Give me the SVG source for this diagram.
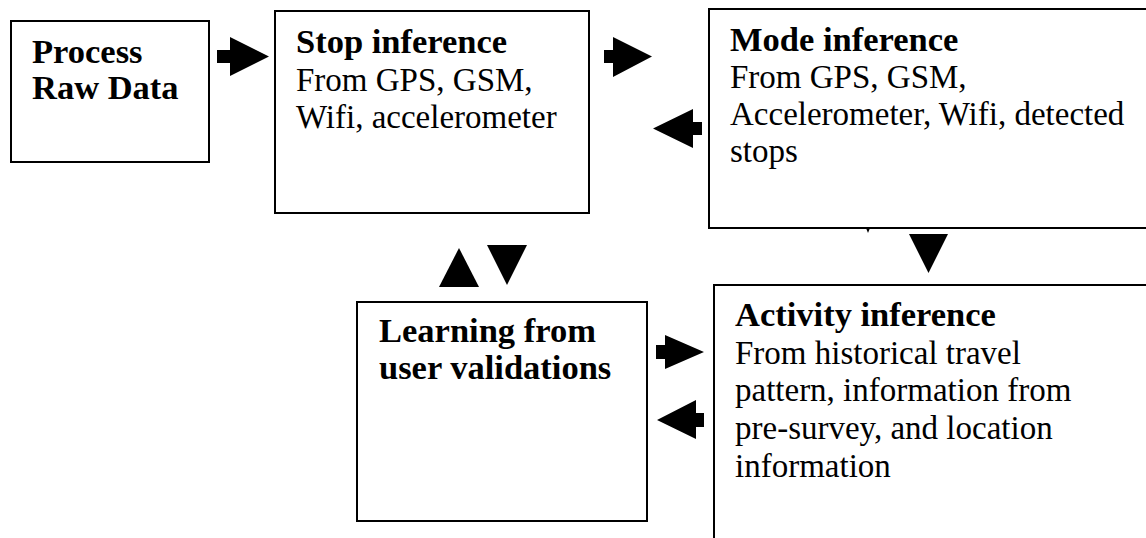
<svg xmlns="http://www.w3.org/2000/svg" width="1146" height="538" viewBox="0 0 1146 538">
<style>
.box{fill:#fff;stroke:#000;stroke-width:2}
.t{font-family:"Liberation Serif","Times New Roman",serif;font-size:33px;fill:#000}
.b{font-weight:bold;font-size:34.5px}
.arr{fill:#000;stroke:none}
</style>
<rect width="1146" height="538" fill="#fff"/>
<g id="process">
<rect class="box" x="11" y="21" width="198" height="141"/>
<text class="t b" x="32" y="63">Process</text>
<text class="t b" x="32" y="99">Raw Data</text>
</g>
<g id="stop">
<rect class="box" x="275" y="11" width="314" height="202"/>
<text class="t b" x="296" y="53">Stop inference</text>
<text class="t" x="296" y="91">From GPS, GSM,</text>
<text class="t" x="296" y="128">Wifi, accelerometer</text>
</g>
<g id="mode">
<rect class="box" x="709" y="9" width="450" height="219"/>
<text class="t b" x="730" y="51">Mode inference</text>
<text class="t" x="730" y="88">From GPS, GSM,</text>
<text class="t" x="730" y="125">Accelerometer, Wifi, detected</text>
<text class="t" x="730" y="162">stops</text>
</g>
<g id="learning">
<rect class="box" x="357" y="302" width="290" height="219"/>
<text class="t b" x="379" y="342">Learning from</text>
<text class="t b" x="379" y="379">user validations</text>
</g>
<g id="activity">
<rect class="box" x="714" y="285" width="450" height="270"/>
<text class="t b" x="735" y="326">Activity inference</text>
<text class="t" x="735" y="364">From historical travel</text>
<text class="t" x="735" y="401">pattern, information from</text>
<text class="t" x="735" y="439">pre-survey, and location</text>
<text class="t" x="735" y="477">information</text>
</g>
<g id="connectors">
<polygon class="arr" points="217,50 230,50 230,37 269,56.5 230,76 230,63 217,63"/>
<polygon class="arr" points="604,50 613,50 613,37 652,56.5 613,77 613,63 604,63"/>
<polygon class="arr" points="702,122 693,122 693,109 653,128.5 693,148 693,135 702,135"/>
<polygon class="arr" points="439,287 479,287 459,248"/>
<polygon class="arr" points="487,245 527,245 507,285"/>
<polygon class="arr" points="909,234 948,234 928.5,273"/>
<polygon class="arr" points="866,228 870,228 868,233"/>
<polygon class="arr" points="656,345 665,345 665,335 704,352 665,369 665,359 656,359"/>
<polygon class="arr" points="704,413 696,413 696,400 657,420 696,439 696,427 704,427"/>
</g>
</svg>
